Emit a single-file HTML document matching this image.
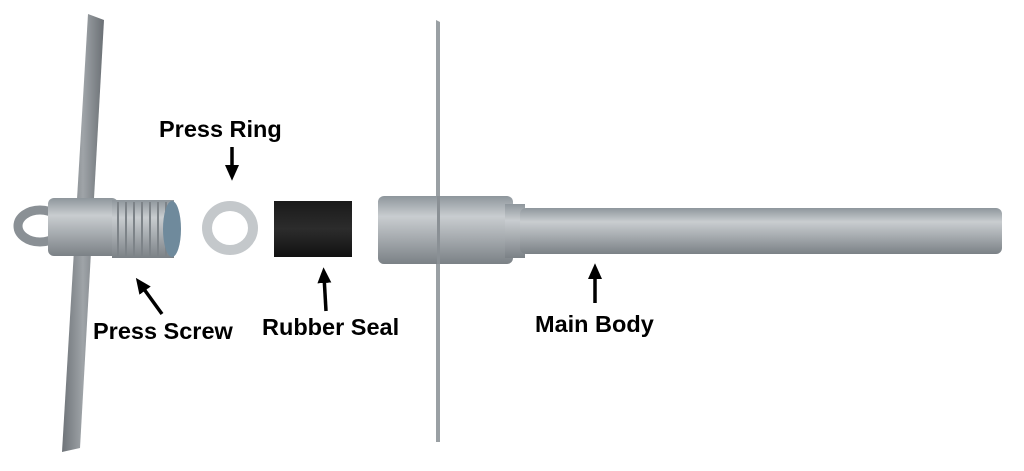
<!DOCTYPE html>
<html><head><style>
body{margin:0;background:#fff;}
svg{display:block}
text{font-family:"Liberation Sans",Arial,sans-serif;font-weight:bold;font-size:23.5px;fill:#000}
</style></head><body>
<svg width="1024" height="471" viewBox="0 0 1024 471">
<defs>
<linearGradient id="m" x1="0" y1="0" x2="0" y2="1">
<stop offset="0" stop-color="#8e969c"/><stop offset="0.3" stop-color="#c9cdd0"/><stop offset="0.6" stop-color="#a8adb1"/><stop offset="1" stop-color="#7b8186"/></linearGradient>
<linearGradient id="b" x1="0" y1="0" x2="1" y2="0">
<stop offset="0" stop-color="#6e7378"/><stop offset="0.5" stop-color="#9fa4a8"/><stop offset="1" stop-color="#6a6f74"/></linearGradient>
<linearGradient id="r" x1="0" y1="0" x2="0" y2="1">
<stop offset="0" stop-color="#1a1a1a"/><stop offset="0.5" stop-color="#2c2c2c"/><stop offset="1" stop-color="#111"/></linearGradient>
<marker id="a" markerWidth="4.5" markerHeight="4" refX="2" refY="2" orient="auto" markerUnits="strokeWidth"><path d="M0,0 L4.5,2 L0,4 z" fill="#000"/></marker>
</defs>
<path d="M88,14 L104,20 L80,448 L62,452 Z" fill="url(#b)"/>
<ellipse cx="40" cy="226" rx="22" ry="16" fill="none" stroke="#8a9095" stroke-width="9"/>
<rect x="48" y="198" width="70" height="58" rx="6" fill="url(#m)"/>
<rect x="112" y="200" width="62" height="58" fill="url(#m)"/>
<g stroke="#7d8388" stroke-width="2">
<line x1="118" y1="202" x2="118" y2="256"/><line x1="126" y1="202" x2="126" y2="256"/><line x1="134" y1="202" x2="134" y2="256"/><line x1="142" y1="202" x2="142" y2="256"/><line x1="150" y1="202" x2="150" y2="256"/><line x1="158" y1="202" x2="158" y2="256"/><line x1="166" y1="202" x2="166" y2="256"/></g>
<ellipse cx="172" cy="229" rx="9" ry="28" fill="#6f8a9c"/>
<ellipse cx="230" cy="228" rx="28" ry="27" fill="#c4c8cb"/>
<ellipse cx="230" cy="228" rx="18" ry="17" fill="#fff"/>
<rect x="274" y="201" width="78" height="56" fill="url(#r)"/>
<path d="M436,20 L440,22 L440,442 L436,442 Z" fill="#9aa0a4"/>
<rect x="378" y="196" width="135" height="68" rx="6" fill="url(#m)"/>
<rect x="505" y="204" width="20" height="54" fill="url(#m)"/>
<rect x="520" y="208" width="482" height="46" rx="6" fill="url(#m)"/>
<path d="M437,196 L440,196 L440,264 L437,264Z" fill="#8a9095"/>
<text x="159" y="137">Press Ring</text>
<text x="93" y="339">Press Screw</text>
<text x="262" y="335">Rubber Seal</text>
<text x="535" y="332">Main Body</text>
<g stroke="#000" stroke-width="3.5">
<line x1="232" y1="147" x2="232" y2="172" marker-end="url(#a)"/>
<line x1="162" y1="314" x2="141" y2="285" marker-end="url(#a)"/>
<line x1="326" y1="311" x2="324" y2="276" marker-end="url(#a)"/>
<line x1="595" y1="303" x2="595" y2="272" marker-end="url(#a)"/>
</g>
</svg>
</body></html>
